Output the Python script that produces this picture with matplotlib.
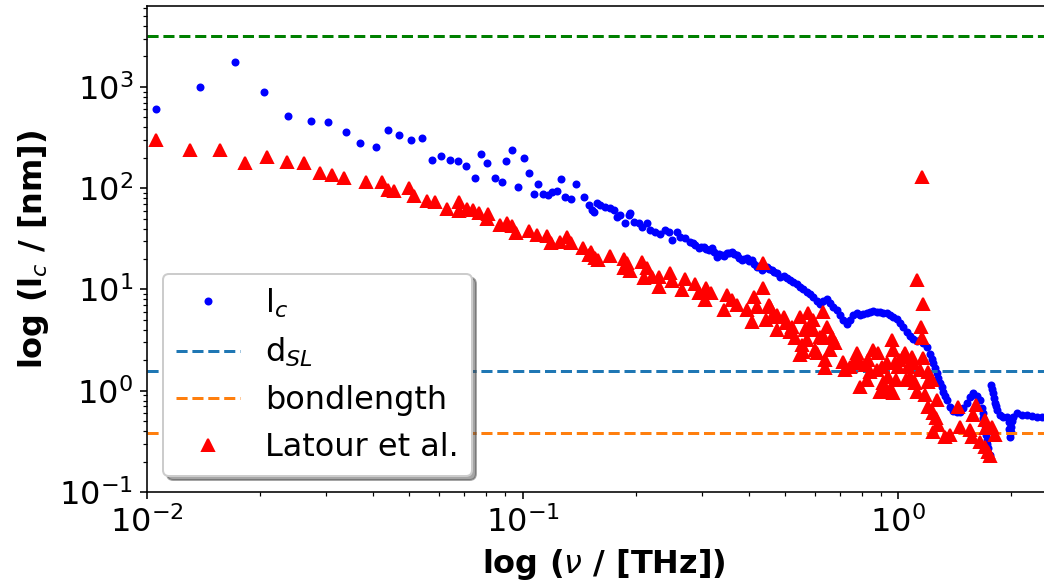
import matplotlib
matplotlib.use("Agg")
import matplotlib.pyplot as plt

# l_c series (frequency in THz, length in nm)
lc_freq = [0.01057, 0.0138, 0.0172, 0.0205, 0.0238, 0.0274, 0.0304, 0.0338, 0.0369, 0.0406,
           0.0437, 0.0469, 0.0505, 0.0539, 0.0575, 0.0607, 0.0641, 0.0675, 0.0708, 0.0745,
           0.0774, 0.0806, 0.0846, 0.0881, 0.0902, 0.094, 0.097, 0.1009, 0.1042, 0.1072,
           0.110, 0.1135, 0.1168, 0.120, 0.1238, 0.127, 0.1297, 0.1344, 0.139,
           0.1456, 0.1501, 0.1532, 0.1548, 0.158, 0.1612, 0.1663, 0.1714, 0.175, 0.1786,
           0.1823, 0.1879, 0.1918, 0.1938, 0.1977, 0.2039, 0.208, 0.2146, 0.219, 0.2259,
           0.2329, 0.2401, 0.245, 0.25, 0.2578, 0.2631, 0.2713, 0.2798, 0.2841, 0.2884,
           0.2944, 0.2989, 0.3036, 0.3083, 0.3131, 0.3195, 0.3245, 0.3295, 0.3345, 0.3397,
           0.3449, 0.3503, 0.3557, 0.3612, 0.3667, 0.3724, 0.3781, 0.3839, 0.3898, 0.3958,
           0.4019, 0.408, 0.4143, 0.4207, 0.4272, 0.4338, 0.4404, 0.4472, 0.4541, 0.4613,
           0.4683, 0.4756, 0.4855,
           0.4955, 0.5057, 0.5161, 0.5268, 0.5376, 0.5487, 0.5601, 0.5716, 0.5834, 0.5954,
           0.6077, 0.6202, 0.633, 0.6461, 0.6594, 0.673, 0.6868, 0.701, 0.7155, 0.7302,
           0.7453, 0.7607, 0.7764, 0.7925, 0.8088, 0.8255, 0.8424, 0.8598, 0.8776, 0.8957,
           0.9141, 0.933, 0.9522, 0.9719, 0.992, 1.012, 1.033,
           1.054, 1.076, 1.098, 1.121, 1.144, 1.168, 1.192, 1.216, 1.229, 1.242,
           1.254, 1.267, 1.28, 1.293, 1.306, 1.32, 1.333, 1.347, 1.375, 1.403,
           1.432, 1.462, 1.492, 1.522, 1.554, 1.586, 1.619, 1.652, 1.673, 1.68,
           1.686, 1.695, 1.703, 1.712, 1.721, 1.73, 1.739, 1.757, 1.764, 1.775,
           1.786, 1.798, 1.811, 1.824, 1.837, 1.867, 1.906, 1.945, 1.97, 1.978,
           1.986, 1.994, 2.002, 2.014, 2.027, 2.069, 2.133, 2.199, 2.268, 2.338,
           2.411, 2.486]
lc_vals = [604, 1000, 1745, 895, 515, 463, 446, 358, 277, 257,
           372, 332, 298, 312, 191, 207, 192, 184, 165, 127,
           220, 177, 127, 114, 184, 238, 102, 198, 142, 88,
           110, 88, 85, 92, 93, 122, 82, 79, 110,
           82.3, 68.1, 60.8, 58.5, 70.8, 68.1, 65.6, 63.1, 60.8, 52.3,
           54.2, 44.9, 54.2, 56.4, 46.7, 44.9, 41.6, 44.9, 38.5, 37.1,
           35.7, 38.5, 37.1, 30.7, 37.1, 33.1, 31.9, 29.6, 28.5, 27.4,
           25.4, 26.0, 26.4, 25.0, 24.5, 25.4, 23.5, 21.0, 22.5, 21.9,
           21.5, 22.7, 23.0, 23.6, 22.5, 21.9, 20.5, 19.5, 20.0, 20.3,
           19.0, 19.5, 18.0, 16.7, 17.0, 15.5, 16.3, 16.7, 16.0, 15.5,
           15.0, 14.4, 13.4,
           13.5, 12.9, 12.4, 11.9, 11.3, 10.6, 10.0, 9.5, 9.0, 8.5,
           7.7, 7.2, 7.7, 8.0, 7.4, 6.75, 6.2, 5.6, 4.99, 4.55,
           4.99, 5.6, 5.9, 5.6, 5.7, 5.9, 6.0, 6.1, 6.0, 6.0,
           5.9, 5.8, 5.6, 5.4, 5.06, 4.62, 4.22,
           3.83, 3.47, 3.21, 3.12, 3.16, 2.98, 2.68, 2.30, 2.07, 1.86,
           1.68, 1.51, 1.35, 1.20, 1.08, 0.978, 0.89, 0.809, 0.695, 0.635,
           0.611, 0.621, 0.670, 0.762, 0.873, 0.942, 0.887, 0.809, 0.670, 0.60,
           0.533, 0.47, 0.409, 0.365, 0.326, 0.297, 0.270, 0.232, 1.14, 1.04,
           0.942, 0.85, 0.762, 0.70, 0.645, 0.575, 0.554, 0.554, 0.495, 0.42,
           0.347, 0.39, 0.441, 0.50, 0.554, 0.597, 0.575, 0.575, 0.562, 0.554,
           0.554, 0.554]

# Latour et al. series
lat_freq = [0.01057, 0.01301, 0.01567, 0.01824, 0.0209, 0.0236, 0.0262, 0.0288, 0.031, 0.0334,
            0.0383, 0.0422, 0.0438, 0.0455, 0.050, 0.0514, 0.0556, 0.0586, 0.0628, 0.0678,
            0.0678, 0.0713, 0.0736, 0.0767, 0.0809, 0.0806, 0.0871, 0.091, 0.094, 0.0962,
            0.104, 0.1094, 0.1164, 0.1194, 0.126, 0.131, 0.135, 0.145, 0.150, 0.152,
            0.156, 0.159, 0.1706, 0.1858, 0.1896, 0.1858, 0.193, 0.208, 0.2146, 0.210,
            0.2214, 0.2305, 0.2305, 0.2475, 0.25, 0.2714, 0.266, 0.2884, 0.2943, 0.3084,
            0.317, 0.306, 0.350, 0.362, 0.344, 0.3718, 0.396, 0.408, 0.4128, 0.4213,
            0.4375, 0.444, 0.453, 0.4625, 0.4757, 0.4375, 0.4566, 0.4757, 0.5036, 0.516,
            0.532, 0.548, 0.577, 0.5646, 0.594, 0.5717, 0.5578, 0.548, 0.601, 0.630,
            0.6457, 0.6355, 0.680, 0.657, 0.639, 0.639, 0.7148, 0.7205, 0.7755, 0.7927,
            0.7927, 0.833, 0.843, 0.886, 0.905, 0.914, 0.942, 0.961, 0.971, 0.98,
            0.971, 0.93, 0.99, 1.03, 0.860, 0.878, 0.933, 0.952, 0.896, 1.0,
            0.768, 0.745, 0.817, 0.826, 0.4955, 0.5214, 0.5834, 0.5954, 0.62, 0.6077,
            0.666, 0.554,
            1.156, 1.125, 1.167, 1.15, 1.156, 1.087, 1.006, 1.065, 1.167, 1.204,
            1.204, 1.05, 1.111, 1.122, 1.178, 1.273, 1.204, 1.241, 1.266, 1.277,
            1.241, 1.334, 1.377, 1.445, 1.462, 1.554, 1.57, 1.616, 1.586, 1.70,
            1.72, 1.78, 1.81, 1.652, 1.70, 1.738, 1.753, 1.044, 1.098, 1.229,
            1.076, 1.144]
lat_vals = [298, 238, 238, 176, 204, 181, 176, 140, 135, 127,
            116, 116, 97, 94, 101, 83.6, 75, 73, 62.7, 73.5,
            59.8, 63, 60.8, 56.4, 55.5, 49.9, 43.5, 45.5, 42.3, 35.8,
            37.7, 34.4, 33.9, 28.9, 29.6, 33.1, 28.9, 25.5, 21.9, 23.6,
            20.3, 19.5, 21.4, 19.8, 18.1, 16.2, 15.3, 18.8, 16.2, 12.9,
            13.3, 13.3, 10.6, 14.4, 12.2, 12.6, 9.87, 11.3, 9.15, 10.3,
            9.15, 7.86, 8.8, 7.86, 6.26, 7.0, 6.26, 4.8, 8.47, 6.75,
            10.3, 4.99, 7.0, 5.38, 3.97, 18.1, 6.75, 5.59, 4.63, 3.82,
            3.29, 5.37, 5.81, 3.97, 3.97, 3.16, 2.43, 2.25, 2.52, 6.03,
            4.28, 3.29, 2.94, 2.52, 2.01, 1.66, 1.93, 1.6, 2.34, 1.86,
            1.1, 2.01, 1.54, 2.34, 1.73, 1.18, 1.37, 3.16, 2.52, 1.86,
            0.94, 0.98, 1.27, 2.17, 2.52, 1.6, 1.86, 1.02, 0.98, 1.73,
            2.01, 1.73, 1.79, 1.28, 5.38, 4.28, 4.45, 4.99, 3.41, 2.34,
            3.41, 2.82,
            130, 12.4, 7.18, 4.28, 3.29, 2.17, 2.0, 1.73, 2.09, 1.54,
            1.23, 1.27, 1.18, 0.98, 0.91, 0.81, 0.695, 0.598, 0.533, 0.458,
            0.394, 0.352, 0.365, 0.695, 0.441, 0.41, 0.352, 0.722, 0.575, 0.513,
            0.425, 0.441, 0.365, 0.314, 0.28, 0.25, 0.227, 2.34, 1.86, 1.28,
            1.37, 1.6]

d_sl = 1.57
bondlength = 0.385
upper_level = 3200

fig = plt.figure(figsize=(1044 / 144, 588 / 144), dpi=144)
ax = fig.add_axes([147 / 1044, 96 / 588, 913 / 1044, 486 / 588])

ax.plot(lc_freq, lc_vals, 'b.', linestyle='none', label='l$_c$')
ax.axhline(d_sl, color='C0', ls='--', label='d$_{SL}$')
ax.axhline(bondlength, color='C1', ls='--', label='bondlength')
ax.plot(lat_freq, lat_vals, 'r^', linestyle='none', label='Latour et al.')
ax.axhline(upper_level, color='g', ls='--')

ax.set_xscale('log')
ax.set_yscale('log')
ax.set_xlim(0.01, 2.70)
ax.set_ylim(0.1, 6300)
ax.set_xlabel(r'log ($\nu$ / [THz])', fontsize=16, fontweight='bold')
ax.set_ylabel(r'log (l$_c$ / [nm])', fontsize=16, fontweight='bold')
ax.tick_params(labelsize=16)
ax.legend(loc='lower left', fontsize=16, shadow=True)

fig.savefig('out.png', dpi=144)
